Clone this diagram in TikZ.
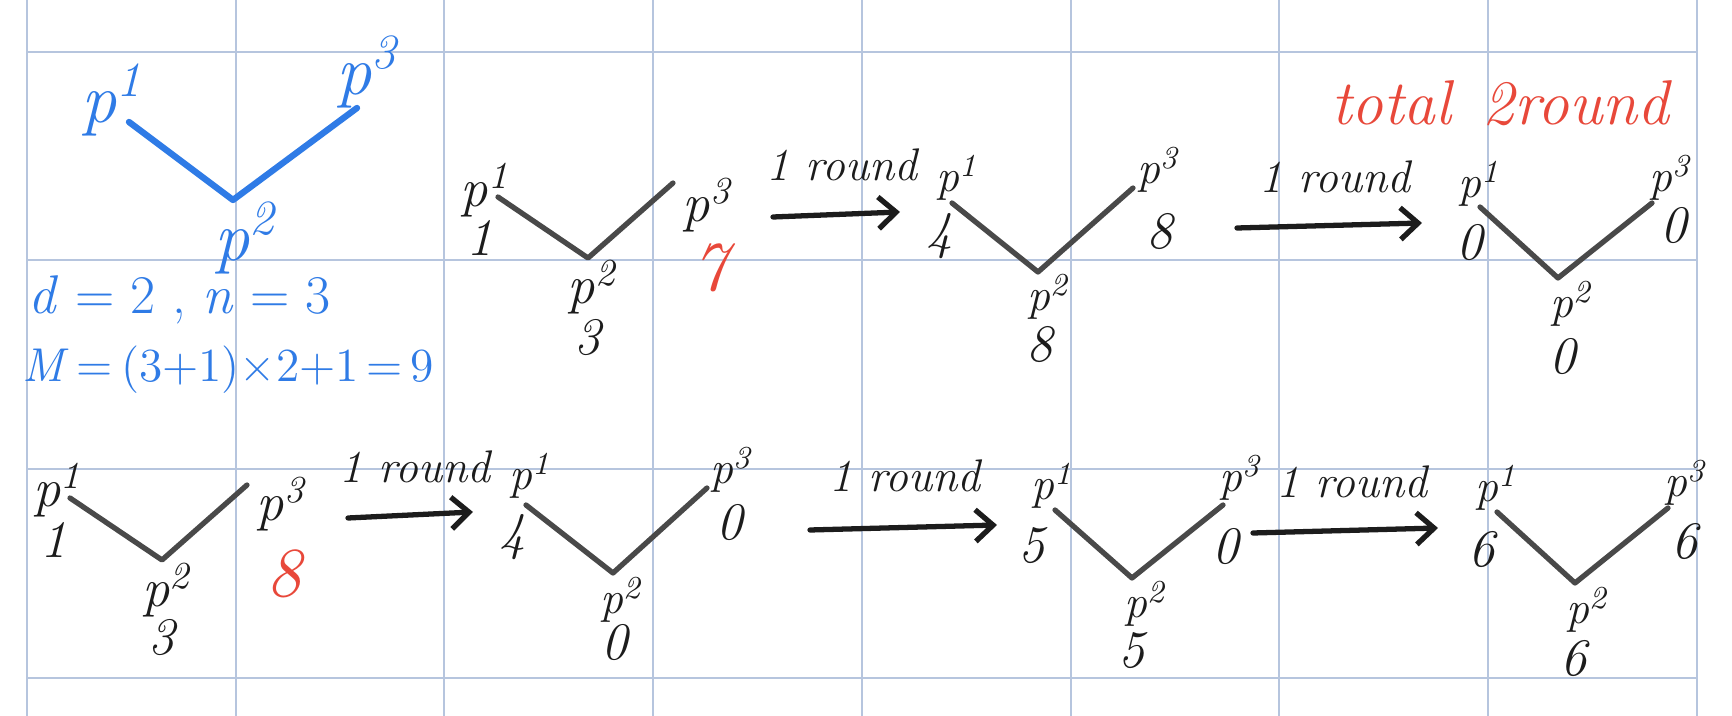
\documentclass[tikz,border=0pt]{standalone}
\usepackage{tikz}
\usetikzlibrary{arrows.meta}
\definecolor{gridblue}{RGB}{182,197,222}
\definecolor{inkblue}{RGB}{47,123,230}
\definecolor{inkred}{RGB}{232,72,58}
\definecolor{ink}{RGB}{28,28,28}

\begin{document}
\begin{tikzpicture}[x=0.01cm, y=-0.01cm,
  gridline/.style={draw=gridblue, line width=0.6pt},
  edge/.style={draw=ink!80, line width=1.5pt, line cap=round, line join=round},
  flow/.style={draw=ink, line width=1.5pt, line cap=round, -{Straight Barb[length=5pt,width=9pt]}},
  plab/.style={text=ink, inner sep=0pt, font=\fontsize{13}{13}\selectfont\itshape},
  bigplab/.style={plab, font=\fontsize{15.5}{15.5}\selectfont\itshape},
  val/.style={text=ink, inner sep=0pt, font=\fontsize{15}{15}\selectfont\itshape},
  redval/.style={text=inkred, inner sep=0pt, font=\fontsize{20}{20}\selectfont\itshape},
  rnd/.style={text=ink, inner sep=0pt, font=\fontsize{13}{13}\selectfont\itshape},
  note/.style={text=inkblue, inner sep=0pt, anchor=west, font=\fontsize{15.5}{15.5}\selectfont}]
\useasboundingbox (0,0) rectangle (1732,716);
\fill[white] (0,0) rectangle (1732,716);

% grid paper
\draw[gridline] (27,0) -- (27,716);
\draw[gridline] (236,0) -- (236,716);
\draw[gridline] (444,0) -- (444,716);
\draw[gridline] (653,0) -- (653,716);
\draw[gridline] (862,0) -- (862,716);
\draw[gridline] (1071,0) -- (1071,716);
\draw[gridline] (1279,0) -- (1279,716);
\draw[gridline] (1488,0) -- (1488,716);
\draw[gridline] (1697,0) -- (1697,716);
\draw[gridline] (27,52) -- (1697,52);
\draw[gridline] (27,260) -- (1697,260);
\draw[gridline] (27,469) -- (1697,469);
\draw[gridline] (27,678) -- (1697,678);

% blue sketch
\coordinate (ca1) at (129,122);
\coordinate (ca2) at (233,200);
\coordinate (ca3) at (357,108);
\draw[edge, draw=inkblue, line width=1.8pt] (ca1) -- (ca2) -- (ca3);
\node[plab, text=inkblue, font=\fontsize{20}{20}\selectfont\itshape] (pa1) at (112,100) {p\textsuperscript{1}};
\node[plab, text=inkblue, font=\fontsize{20}{20}\selectfont\itshape] (pa3) at (367,72) {p\textsuperscript{3}};
\node[plab, text=inkblue, font=\fontsize{20}{20}\selectfont\itshape] (pa2) at (245,238) {p\textsuperscript{2}};
\node[note] (dn) at (28,300) {\textit{d} = 2 , \textit{n} = 3};
\node[note, font=\fontsize{13.5}{13.5}\selectfont] (mm) at (22,370) {\textit{M}\,=\,(3+1)×2+1\,=\,9};

% top row
\coordinate (cb1) at (498,197);
\coordinate (cb2) at (588,258);
\coordinate (cb3) at (673,183);
\draw[edge] (cb1) -- (cb2) -- (cb3);
\node[bigplab] (pb1) at (485,190) {p\textsuperscript{1}};
\node[bigplab] (pb3) at (707,205) {p\textsuperscript{3}};
\node[bigplab] (pb2) at (592,287) {p\textsuperscript{2}};
\node[val] (vb1) at (480,238) {1};
\node[redval] (vb3) at (710,268) {7};
\node[val] (vb2) at (588,338) {3};

\coordinate (ta1) at (773,217);
\coordinate (ha1) at (900,212);
\draw[flow] (ta1) -- (ha1);
\node[rnd] (r1) at (842,165) {1 round};

\coordinate (cc1) at (952,203);
\coordinate (cc2) at (1038,272);
\coordinate (cc3) at (1133,188);
\draw[edge] (cc1) -- (cc2) -- (cc3);
\node[plab] (pc1) at (957,178) {p\textsuperscript{1}};
\node[plab] (pc3) at (1158,170) {p\textsuperscript{3}};
\node[plab] (pc2) at (1048,297) {p\textsuperscript{2}};
\node[val] (vc1) at (940,236) {4};
\node[val] (vc3) at (1160,232) {8};
\node[val] (vc2) at (1040,345) {8};

\coordinate (ta2) at (1237,228);
\coordinate (ha2) at (1422,223);
\draw[flow] (ta2) -- (ha2);
\node[rnd] (r2) at (1335,177) {1 round};

\node[text=inkred, inner sep=0pt, font=\fontsize{18}{18}\selectfont\itshape] (tot) at (1500,103) {total\hspace{0.15em} 2round};

\coordinate (cd1) at (1480,207);
\coordinate (cd2) at (1558,278);
\coordinate (cd3) at (1652,203);
\draw[edge] (cd1) -- (cd2) -- (cd3);
\node[plab] (pd1) at (1479,184) {p\textsuperscript{1}};
\node[plab] (pd3) at (1670,178) {p\textsuperscript{3}};
\node[plab] (pd2) at (1571,304) {p\textsuperscript{2}};
\node[val] (vd1) at (1470,243) {0};
\node[val] (vd3) at (1674,226) {0};
\node[val] (vd2) at (1563,357) {0};

% bottom row
\coordinate (ce1) at (70,498);
\coordinate (ce2) at (162,560);
\coordinate (ce3) at (247,485);
\draw[edge] (ce1) -- (ce2) -- (ce3);
\node[bigplab] (pe1) at (58,490) {p\textsuperscript{1}};
\node[bigplab] (pe3) at (281,504) {p\textsuperscript{3}};
\node[bigplab] (pe2) at (167,590) {p\textsuperscript{2}};
\node[val] (ve1) at (54,540) {1};
\node[redval] (ve3) at (284,574) {8};
\node[val] (ve2) at (162,638) {3};

\coordinate (ta3) at (348,518);
\coordinate (ha3) at (473,512);
\draw[flow] (ta3) -- (ha3);
\node[rnd] (r3) at (415,467) {1 round};

\coordinate (cf1) at (526,505);
\coordinate (cf2) at (613,573);
\coordinate (cf3) at (707,488);
\draw[edge] (cf1) -- (cf2) -- (cf3);
\node[plab] (pf1) at (530,476) {p\textsuperscript{1}};
\node[plab] (pf3) at (731,470) {p\textsuperscript{3}};
\node[plab] (pf2) at (621,600) {p\textsuperscript{2}};
\node[val] (vf1) at (513,537) {4};
\node[val] (vf3) at (730,523) {0};
\node[val] (vf2) at (615,643) {0};

\coordinate (ta4) at (810,530);
\coordinate (ha4) at (997,525);
\draw[flow] (ta4) -- (ha4);
\node[rnd] (r4) at (905,476) {1 round};

\coordinate (cg1) at (1055,510);
\coordinate (cg2) at (1132,578);
\coordinate (cg3) at (1223,505);
\draw[edge] (cg1) -- (cg2) -- (cg3);
\node[plab] (pg1) at (1052,486) {p\textsuperscript{1}};
\node[plab] (pg3) at (1240,478) {p\textsuperscript{3}};
\node[plab] (pg2) at (1145,604) {p\textsuperscript{2}};
\node[val] (vg1) at (1032,546) {5};
\node[val] (vg3) at (1226,547) {0};
\node[val] (vg2) at (1132,651) {5};

\coordinate (ta5) at (1253,533);
\coordinate (ha5) at (1438,528);
\draw[flow] (ta5) -- (ha5);
\node[rnd] (r5) at (1352,482) {1 round};

\coordinate (ch1) at (1497,512);
\coordinate (ch2) at (1575,583);
\coordinate (ch3) at (1668,508);
\draw[edge] (ch1) -- (ch2) -- (ch3);
\node[plab] (ph1) at (1496,488) {p\textsuperscript{1}};
\node[plab] (ph3) at (1685,483) {p\textsuperscript{3}};
\node[plab] (ph2) at (1587,610) {p\textsuperscript{2}};
\node[val] (vh1) at (1482,550) {6};
\node[val] (vh3) at (1685,542) {6};
\node[val] (vh2) at (1574,659) {6};
\end{tikzpicture}
\end{document}
